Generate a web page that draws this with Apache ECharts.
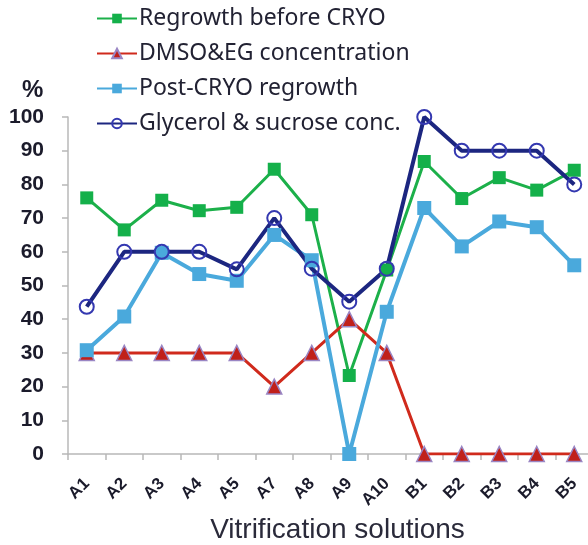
<!DOCTYPE html>
<html>
<head>
<meta charset="utf-8">
<script src="https://cdn.jsdelivr.net/npm/echarts@6/dist/echarts.min.js"></script>
<style>
  html, body { margin: 0; padding: 0; background: #fff; }
  #chart { width: 588px; height: 545px; }
</style>
</head>
<body>
<div id="chart"></div>
<script>
    // 溶液名称
    var solutions = ['A1','A2','A3','A4','A5','A7','A8','A9','A10','B1','B2','B3','B4','B5'];
    // 各系列数值 (%)
    var regrowthBefore = [76, 66.5, 75.3, 72.2, 73.2, 84.5, 71, 23.3, 54.6, 86.8, 75.8, 82, 78.3, 84.2];
    var dmsoEg = [30, 30, 30, 30, 30, 20, 30, 40, 30, 0, 0, 0, 0, 0];
    var postCryo = [30.8, 40.8, 59.7, 53.4, 51.4, 65, 57.5, 0, 42.2, 73, 61.6, 69, 67.3, 56];
    var glycerol = [43.7, 60, 60, 60, 54.8, 70, 55, 45.2, 55, 100, 90, 90, 90, 80];
    var yTicks = [0, 10, 20, 30, 40, 50, 60, 70, 80, 90, 100];

    var myChart = echarts.init(document.getElementById('chart'));
    var option = {
        animation: false,
        title: {
            text: '%',
            left: 17,
            top: 73,
            textStyle: { fontSize: 24, fontWeight: 'bold', color: '#1b1b2b', fontFamily: 'Liberation Sans' }
        },
        legend: {
            orient: 'vertical',
            left: 91,
            top: 2,
            itemWidth: 40,
            itemHeight: 12,
            itemGap: 12,
            textStyle: { fontSize: 23, color: '#222233', fontFamily: 'Noto Sans', padding: [0, 0, 0, -3] },
            data: ['Regrowth before CRYO', 'DMSO&EG concentration', 'Post-CRYO regrowth', 'Glycerol & sucrose conc.']
        },
        grid: {
            left: 68,
            top: 117,
            width: 525,
            height: 337,
            containLabel: false,
            outerBoundsMode: 'none'
        },
        xAxis: {
            type: 'category',
            data: solutions,
            boundaryGap: true,
            name: 'Vitrification solutions',
            nameLocation: 'middle',
            nameGap: 57,
            nameTextStyle: { fontSize: 28, color: '#2a2a3a', fontFamily: 'Liberation Sans', padding: [0, 0, 0, 14] },
            axisLine: { lineStyle: { color: '#b8b8b8', width: 1.5 } },
            axisTick: { show: true, length: 6, lineStyle: { color: '#b8b8b8', width: 1.5 } },
            axisLabel: {
                rotate: 45,
                margin: 27,
                fontSize: 17,
                fontWeight: 'bold',
                color: '#1b1b2b',
                fontFamily: 'Liberation Sans'
            },
            splitLine: { show: false }
        },
        yAxis: {
            type: 'value',
            min: 0,
            max: 100,
            interval: 10,
            axisLine: { show: true, lineStyle: { color: '#b8b8b8', width: 1.5 } },
            axisTick: { show: true, length: 6, lineStyle: { color: '#b8b8b8', width: 1.5 } },
            axisLabel: {
                margin: 24,
                fontSize: 21,
                fontWeight: 'bold',
                color: '#1b1b2b',
                fontFamily: 'Liberation Sans',
                formatter: function (v) { return yTicks.indexOf(v) >= 0 ? String(v) : ''; }
            },
            splitLine: { show: false }
        },
        series: [
            {
                name: 'Regrowth before CRYO',
                type: 'line',
                data: regrowthBefore,
                symbol: 'rect',
                symbolSize: 13,
                lineStyle: { color: '#1cb04a', width: 3 },
                itemStyle: { color: '#14b04a' }
            },
            {
                name: 'DMSO&EG concentration',
                type: 'line',
                data: dmsoEg,
                symbol: 'triangle',
                symbolSize: 15,
                lineStyle: { color: '#d02a1c', width: 3 },
                itemStyle: { color: '#c0201a', borderColor: '#9a86c4', borderWidth: 1.5 }
            },
            {
                name: 'Post-CRYO regrowth',
                type: 'line',
                data: postCryo,
                symbol: 'rect',
                symbolSize: 14,
                lineStyle: { color: '#4aa9dc', width: 4 },
                itemStyle: { color: '#4aa9dc' }
            },
            {
                name: 'Glycerol & sucrose conc.',
                type: 'line',
                data: glycerol,
                symbol: 'circle',
                symbolSize: 14,
                lineStyle: { color: '#1c2680', width: 4 },
                itemStyle: { color: 'rgba(255,255,255,0)', borderColor: '#3438b0', borderWidth: 2 }
            }
        ]
    };
    myChart.setOption(option);
</script>
</body>
</html>
